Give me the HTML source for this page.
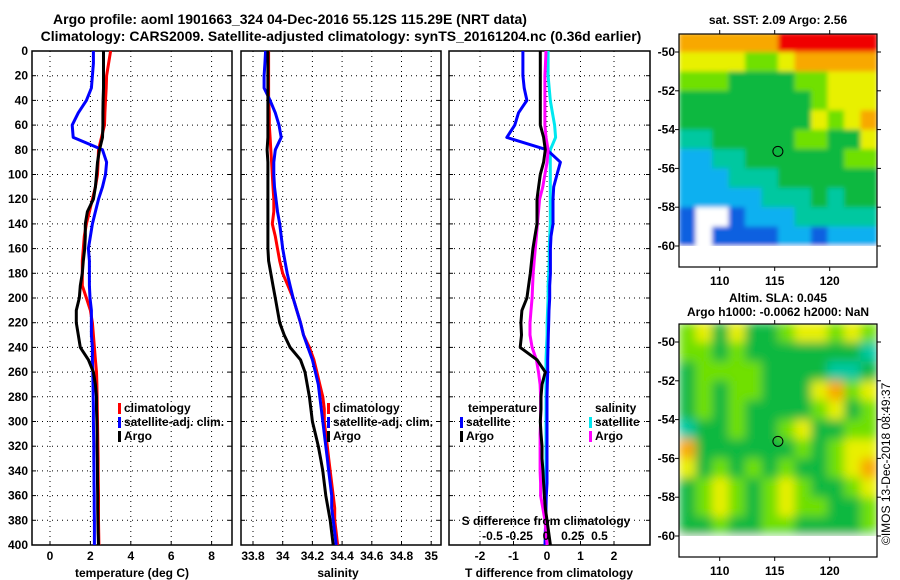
<!DOCTYPE html>
<html><head><meta charset="utf-8"><style>
body{margin:0;background:#fff}
svg{display:block;font-family:"Liberation Sans",sans-serif;font-weight:bold}
</style></head><body>
<svg id="c" width="900" height="580" xmlns="http://www.w3.org/2000/svg">
<text x="290" y="24" font-size="14" text-anchor="middle">Argo profile: aoml 1901663_324 04-Dec-2016 55.12S 115.29E (NRT data)</text>
<text x="341" y="41" font-size="14" text-anchor="middle">Climatology: CARS2009. Satellite-adjusted climatology: synTS_20161204.nc (0.36d earlier)</text>
<text x="778" y="24" font-size="12" text-anchor="middle">sat. SST: 2.09 Argo: 2.56</text>
<text x="778" y="302" font-size="12" text-anchor="middle">Altim. SLA: 0.045</text>
<text x="778" y="316" font-size="12" text-anchor="middle">Argo h1000: -0.0062 h2000: NaN</text>
<text transform="translate(890,545) rotate(-90)" font-size="12" font-weight="normal">©IMOS 13-Dec-2018 08:49:37</text>
<g id="g"></g>
</svg>
<script>
const depths=[0,10,20,30,40,50,60,70,80,90,100,110,120,130,140,150,160,170,180,190,200,210,220,230,240,250,260,270,280,290,300,310,320,330,340,350,360,370,380,390,400];
// temperature (deg C)
const tempClim=[3.0,2.9,2.8,2.78,2.75,2.72,2.7,2.55,2.4,2.38,2.35,2.25,2.1,1.95,1.8,1.7,1.65,1.6,1.6,1.6,1.8,2.0,2.1,2.15,2.2,2.25,2.3,2.32,2.33,2.34,2.35,2.36,2.37,2.38,2.38,2.39,2.4,2.4,2.4,2.41,2.42];
const tempSat=[2.15,2.15,2.1,2.05,1.8,1.4,1.1,1.15,2.6,2.8,2.75,2.6,2.4,2.25,2.1,2.0,1.9,1.95,1.95,1.95,1.98,2.05,2.05,2.05,2.1,2.1,2.12,2.13,2.14,2.15,2.15,2.16,2.17,2.17,2.18,2.18,2.19,2.19,2.2,2.2,2.2];
const tempArgo=[2.65,2.65,2.65,2.65,2.63,2.62,2.62,2.6,2.45,2.35,2.3,2.25,2.15,1.85,1.75,1.75,1.72,1.65,1.6,1.5,1.45,1.3,1.3,1.4,1.5,1.9,2.15,2.25,2.3,2.3,2.32,2.33,2.33,2.34,2.35,2.35,2.36,2.36,2.37,2.38,2.4];
// salinity
const salClim=[33.905,33.905,33.905,33.905,33.905,33.91,33.91,33.915,33.92,33.925,33.93,33.935,33.94,33.94,33.93,33.95,33.965,33.98,34.0,34.035,34.07,34.095,34.12,34.14,34.18,34.21,34.23,34.25,34.27,34.28,34.28,34.29,34.3,34.31,34.32,34.33,34.34,34.35,34.35,34.36,34.37];
const salSat=[33.885,33.88,33.875,33.875,33.915,33.95,33.975,33.99,33.95,33.94,33.94,33.945,33.955,33.965,33.98,33.99,34.0,34.015,34.03,34.05,34.07,34.095,34.12,34.14,34.17,34.2,34.22,34.24,34.25,34.26,34.27,34.28,34.29,34.3,34.31,34.32,34.33,34.33,34.34,34.35,34.36];
const salArgo=[33.9,33.9,33.9,33.9,33.9,33.9,33.9,33.9,33.895,33.9,33.9,33.9,33.9,33.9,33.9,33.9,33.9,33.905,33.92,33.935,33.95,33.965,33.98,34.01,34.05,34.12,34.15,34.165,34.18,34.19,34.2,34.22,34.24,34.255,34.27,34.28,34.29,34.305,34.32,34.33,34.34];
// differences from climatology
const dTSat=[-0.72,-0.72,-0.72,-0.68,-0.6,-0.85,-0.96,-1.2,0.0,0.4,0.3,0.2,0.18,0.18,0.18,0.12,0.1,0.1,0.1,0.08,0.08,0.06,0.05,0.04,0.03,0.02,0.02,0.01,0.0,0.0,0.0,0.0,0.0,0.0,0.0,0.0,-0.02,-0.03,-0.04,-0.05,-0.06];
const dTArgo=[-0.2,-0.2,-0.2,-0.2,-0.2,-0.2,-0.2,-0.1,-0.05,-0.1,-0.2,-0.25,-0.3,-0.3,-0.3,-0.36,-0.42,-0.46,-0.5,-0.55,-0.6,-0.75,-0.78,-0.76,-0.8,-0.3,-0.05,-0.15,-0.18,-0.18,-0.2,-0.18,-0.15,-0.15,-0.12,-0.1,-0.08,-0.05,0.0,0.05,0.1];
const dSSat=[0.02,0.02,0.02,0.03,0.04,0.06,0.08,0.09,0.04,0.04,0.04,0.04,0.04,0.04,0.04,0.035,0.03,0.03,0.025,0.02,0.02,0.015,0.01,0.01,0.005,0.0,0.0,0.0,0.0,0.0,0.0,0.0,0.0,0.0,0.0,0.0,0.0,0.0,0.0,0.0,0.0];
const dSArgo=[0.0,-0.005,-0.01,-0.01,-0.01,-0.01,-0.01,0.0,0.02,0.01,-0.01,-0.03,-0.06,-0.07,-0.08,-0.09,-0.1,-0.11,-0.12,-0.125,-0.13,-0.14,-0.15,-0.15,-0.13,-0.09,-0.07,-0.055,-0.05,-0.05,-0.05,-0.055,-0.055,-0.055,-0.055,-0.05,-0.05,-0.03,-0.01,0.0,0.01];
const depthTicks=[0,20,40,60,80,100,120,140,160,180,200,220,240,260,280,300,320,340,360,380,400];
const tempTicks=[0,2,4,6,8];
const salTicks=[33.8,34,34.2,34.4,34.6,34.8,35];
const salTickLabels=["33.8","34","34.2","34.4","34.6","34.8","35"];
const dTTicks=[-2,-1,0,1,2];
const dSTicks=[-0.5,-0.25,0,0.25,0.5];
const dSTickLabels=["-0.5","-0.25","0","0.25","0.5"];
// map grids (-1 = no data), rows lat -49..-61, cols lon 106.3..124.3
const sstGrid=[
[7,7,7,7,7,7,8,8,8,8,8,8],[6,6,6,6,5,5,6,7,7,7,7,7],[5,5,5,4,4,4,4,5,5,6,6,6],
[4,4,4,4,4,4,4,4,5,6,6,6],[4,4,4,4,4,4,4,4,6,5,6,7],[3,3,4,4,4,4,4,5,5,4,4,6],
[2,2,3,3,4,4,4,4,4,4,5,5],[2,2,2,3,3,3,4,4,4,4,4,4],[2,2,2,2,2,3,3,3,4,3,4,4],
[1,-1,-1,1,2,2,2,3,3,3,3,3],[1,-1,1,1,1,1,2,2,1,2,2,2],[-1,-1,-1,-1,-1,-1,-1,-1,-1,-1,-1,-1]];
const slaGrid=[
[5,6,4,6,4,4,5,6,6,5,6,5],[5,5,4,5,4,4,4,4,4,4,4,3],[4,5,5,5,5,4,4,4,4,3,3,4],
[4,5,4,5,5,4,4,4,6,7,5,6],[4,5,4,5,4,4,4,4,5,6,4,5],[3,4,4,5,4,4,5,6,4,4,5,5],
[7,4,4,4,4,4,4,5,4,5,6,6],[6,4,5,4,5,4,5,4,4,5,6,7],[4,5,6,5,4,5,6,5,4,4,5,6],
[4,5,6,5,4,5,6,5,5,4,4,5],[4,4,5,4,4,5,5,4,4,4,4,5],[-1,-1,-1,-1,-1,-1,-1,-1,-1,-1,-1,-1]];
const colors=["#0030c0","#1060e0","#10b0f0","#00c8a0","#10b840","#70e000","#e8f000","#f8a800","#f00000"];
const lonTicks=[110,115,120];
const latTicks=[-50,-52,-54,-56,-58,-60];

const NS="http://www.w3.org/2000/svg";
const G=document.getElementById('g');
function mk(t,a,p){const e=document.createElementNS(NS,t);for(const k in a)e.setAttribute(k,a[k]);(p||G).appendChild(e);return e;}
const Y0=51,Y1=545;
const yD=d=>Y0+(d/400)*(Y1-Y0);
function panel(x0,x1,xs,xticks,xlabels,name,showY){
  const g=mk('g',{});
  
  
  depthTicks.forEach(d=>{if(d>0&&d<400){const l=mk('line',{x1:x0,x2:x1,y1:yD(d),y2:yD(d),stroke:'#000','stroke-dasharray':'1,4'},g);}
    mk('line',{x1:x0,x2:x0+4,y1:yD(d),y2:yD(d),stroke:'#000'},g);mk('line',{x1:x1-4,x2:x1,y1:yD(d),y2:yD(d),stroke:'#000'},g);
    if(showY){const t=mk('text',{x:x0-4,y:yD(d)+4,'font-size':12,'text-anchor':'end'},g);t.textContent=d;}});
  xticks.forEach((v,i)=>{const x=xs(v);const l=mk('line',{x1:x,x2:x,y1:Y0,y2:Y1,stroke:'#000','stroke-dasharray':'1,4'},g);
    mk('line',{x1:x,x2:x,y1:Y1-4,y2:Y1,stroke:'#000'},g);
    const t=mk('text',{x:x,y:560,'font-size':12,'text-anchor':'middle'},g);t.textContent=xlabels[i];});
  const r=mk('rect',{x:x0,y:Y0,width:x1-x0,height:Y1-Y0,fill:'none',stroke:'#000','stroke-width':1.5},g);
  return g;
}
function line(vals,xs,col,name,g){
  const pts=vals.map((v,i)=>xs(v).toFixed(1)+','+yD(depths[i]).toFixed(1)).join(' ');
  const p=mk('polyline',{points:pts,fill:'none',stroke:col,'stroke-width':3,'stroke-linejoin':'round'},g);
  
  
}
function legend(x,y,col,label,name,g){
  const r=mk('rect',{x:x,y:y-9,width:3,height:11,fill:col},g);
  const t=mk('text',{x:x+6,y:y,'font-size':12},g);t.textContent=label;
}
function xtitle(x,y,s,name){const t=mk('text',{x:x,y:y,'font-size':12,'text-anchor':'middle'});t.textContent=s;}

// Panel 1 temperature
const xT=v=>50+20.2*v;
const p1=panel(32,232,xT,tempTicks,tempTicks.map(String),'temperature-panel',true);
line(tempClim,xT,'#f00','climatology-temp-line',p1);
line(tempSat,xT,'#00f','satellite-temp-line',p1);
line(tempArgo,xT,'#000','argo-temp-line',p1);
legend(118,412,'#f00','climatology','legend-climatology',p1);
legend(118,426,'#00f','satellite-adj. clim.','legend-satellite',p1);
legend(118,440,'#000','Argo','legend-argo',p1);
xtitle(132,577,'temperature (deg C)','temperature-axis-title');

// Panel 2 salinity
const xS=v=>253+148.5*(v-33.8);
const p2=panel(241,441,xS,salTicks,salTickLabels,'salinity-panel',false);
line(salClim,xS,'#f00','climatology-sal-line',p2);
line(salSat,xS,'#00f','satellite-sal-line',p2);
line(salArgo,xS,'#000','argo-sal-line',p2);
legend(327,412,'#f00','climatology','legend-climatology',p2);
legend(327,426,'#00f','satellite-adj. clim.','legend-satellite',p2);
legend(327,440,'#000','Argo','legend-argo',p2);
xtitle(338,577,'salinity','salinity-axis-title');

// Panel 3 differences
const xdT=v=>547+33.5*v;
const xdS=v=>546+107*v;
const p3=panel(449,650,xdT,dTTicks,dTTicks.map(String),'difference-panel',false);
line(dSSat,xdS,'#00e8f0','satellite-sal-diff-line',p3);
line(dTSat,xdT,'#00f','satellite-temp-diff-line',p3);
line(dSArgo,xdS,'#f0f','argo-sal-diff-line',p3);
line(dTArgo,xdT,'#000','argo-temp-diff-line',p3);
{const t=mk('text',{x:468,y:412,'font-size':12},p3);t.textContent='temperature';}
legend(460,426,'#00f','satellite','legend-temp-satellite',p3);
legend(460,440,'#000','Argo','legend-temp-argo',p3);
{const t=mk('text',{x:595,y:412,'font-size':12},p3);t.textContent='salinity';}
legend(589,426,'#00e8f0','satellite','legend-sal-satellite',p3);
legend(589,440,'#f0f','Argo','legend-sal-argo',p3);
xtitle(546,525,'S difference from climatology','s-diff-axis-title');
dSTicks.forEach((v,i)=>{const t=mk('text',{x:xdS(v),y:540,'font-size':12,'text-anchor':'middle'},p3);t.textContent=dSTickLabels[i];});
xtitle(549,577,'T difference from climatology','t-diff-axis-title');

// maps
const defs=mk('defs',{});
const f1=mk('filter',{id:'blurA',x:'0',y:'0',width:'100%',height:'100%'},defs);
mk('feGaussianBlur',{stdDeviation:2.5,edgeMode:'duplicate'},f1);
const f2=mk('filter',{id:'blurB',x:'0',y:'0',width:'100%',height:'100%'},defs);
mk('feGaussianBlur',{stdDeviation:5,edgeMode:'duplicate'},f2);
function map(grid,top,name,filt){
  const MX0=679,MX1=877,lon0=106.3,lon1=124.3;
  const yLat=la=>top+18+(-50-la)*19.4;
  const xLon=lo=>MX0+(lo-lon0)*(MX1-MX0)/(lon1-lon0);
  const cid='clip'+top;
  const cp=mk('clipPath',{id:cid},defs);mk('rect',{x:MX0,y:top,width:MX1-MX0,height:yLat(-60)-top},cp);
  const g=mk('g',{});
  
  
  const outer=mk('g',{'clip-path':'url(#'+cid+')'},g);
  const cells=mk('g',{filter:'url(#'+filt+')'},outer);
  const nc=grid[0].length,cw=(lon1-lon0)/nc;
  grid.forEach((row,ri)=>row.forEach((v,ci)=>{
    const la=-49-ri;const y0=yLat(la),y1=yLat(la-1);
    const c=mk('rect',{x:xLon(lon0+ci*cw),y:y0,width:(MX1-MX0)/nc+0.5,height:y1-y0+0.5,fill:v<0?'#fff':colors[v]},cells);
    }));
  const bottom=top+233;
  const fr=mk('rect',{x:MX0,y:top,width:MX1-MX0,height:bottom-top,fill:'none',stroke:'#000','stroke-width':1.2},g);
  latTicks.forEach(la=>{const y=yLat(la);mk('line',{x1:MX0-4,x2:MX0,y1:y,y2:y,stroke:'#000'},g);mk('line',{x1:MX1,x2:MX1+4,y1:y,y2:y,stroke:'#000'},g);
    const t=mk('text',{x:MX0-4,y:y+4,'font-size':12,'text-anchor':'end'},g);t.textContent=la;});
  lonTicks.forEach(lo=>{const x=xLon(lo);mk('line',{x1:x,x2:x,y1:bottom,y2:bottom+4,stroke:'#000'},g);mk('line',{x1:x,x2:x,y1:top-4,y2:top,stroke:'#000'},g);
    const t=mk('text',{x:x,y:bottom+18,'font-size':12,'text-anchor':'middle'},g);t.textContent=lo;});
  const m=mk('circle',{cx:xLon(115.29),cy:yLat(-55.12),r:5,fill:'none',stroke:'#000'},g);
}
map(sstGrid,34,'sst-map','blurA');
map(slaGrid,324,'sla-map','blurB');
</script>
</body></html>
